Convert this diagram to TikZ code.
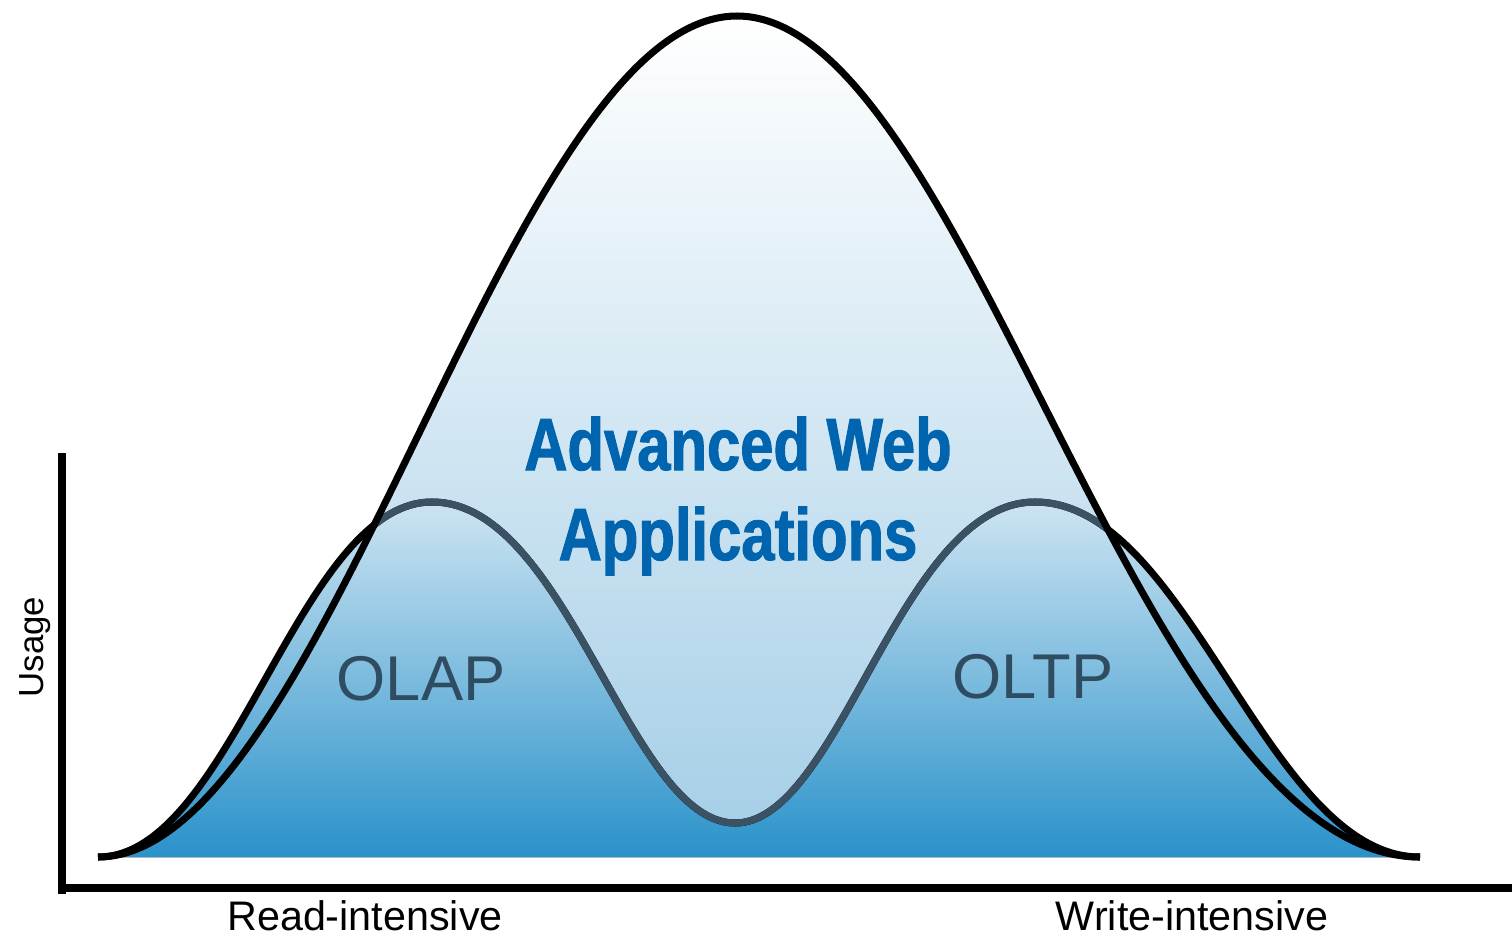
\documentclass[tikz,border=0pt]{standalone}
\usepackage{fontspec}
\setmainfont{Liberation Sans}
\newfontfamily\condfont[FakeStretch=0.81,FakeBold=1.4]{Liberation Sans Bold}
\usetikzlibrary{positioning}
\definecolor{slateLine}{RGB}{58, 82, 100}
\definecolor{slateText}{RGB}{47, 76, 96}
\definecolor{titleBlue}{RGB}{0, 100, 175}
\definecolor{paleBlue}{RGB}{163, 205, 230}
\definecolor{lightBlue}{RGB}{205, 228, 242}
\definecolor{deepBlue}{RGB}{42, 146, 202}

\begin{document}
\begin{tikzpicture}[
    x=0.02cm, y=-0.02cm,
    curve/.style={line width=4pt},
    hump/.style={line width=4pt, draw=slateLine},
    axis/.style={line width=4.3pt},
    label/.style={font=\fontsize{23.5}{27}\selectfont, text=black, inner sep=0pt},
    workload/.style={font=\fontsize{36}{40}\selectfont, text=slateText, inner sep=0pt},
    title/.style={font=\condfont\fontsize{42}{48}\selectfont, text=titleBlue, inner sep=0pt}
]
\useasboundingbox (0,0) rectangle (1512,937);

% Key points of the curves
\coordinate (start) at (98,857);
\coordinate (finish) at (1420,857);
\coordinate (top) at (737,16);
\coordinate (olapTop) at (432,502);
\coordinate (valley) at (735,823);
\coordinate (oltpTop) at (1035,502);

% Advanced web applications (large bell)
\fill[top color=white, bottom color=paleBlue]
    (start) .. controls (328,857) and (507,16) .. (top)
    .. controls (967,16) and (1140,857) .. (finish) -- cycle;

% OLAP / OLTP (double hump)
\fill[top color=lightBlue, bottom color=deepBlue]
    (start) .. controls (232,857) and (298,502) .. (olapTop)
    .. controls (568,502) and (629,823) .. (valley)
    .. controls (840,823) and (900,502) .. (oltpTop)
    .. controls (1189,502) and (1266,857) .. (finish) -- cycle;

% Double hump outline: black outside the bell
\draw[curve]
    (start) .. controls (232,857) and (298,502) .. (olapTop)
    .. controls (568,502) and (629,823) .. (valley)
    .. controls (840,823) and (900,502) .. (oltpTop)
    .. controls (1189,502) and (1266,857) .. (finish);

% Double hump outline: slate inside the bell
\begin{scope}
    \clip (start) .. controls (328,857) and (507,16) .. (top)
        .. controls (967,16) and (1140,857) .. (finish) -- cycle;
    \draw[hump]
        (start) .. controls (232,857) and (298,502) .. (olapTop)
        .. controls (568,502) and (629,823) .. (valley)
        .. controls (840,823) and (900,502) .. (oltpTop)
        .. controls (1189,502) and (1266,857) .. (finish);
\end{scope}

% Bell outline
\draw[curve]
    (start) .. controls (328,857) and (507,16) .. (top)
    .. controls (967,16) and (1140,857) .. (finish);

% Axes
\coordinate (origin) at (62,888);
\coordinate (yEnd) at (62,453);
\coordinate (xEnd) at (1512,888);
\draw[axis] (yEnd) -- (62,894);
\draw[axis] (58,888) -- (xEnd);

% Labels
\node[label, anchor=base] (read) at (365,930) {Read-intensive};
\node[label, anchor=base] (write) at (1192,930) {Write-intensive};
\node[label, anchor=base, rotate=90, font=\fontsize{19.8}{23}\selectfont] (usage) at (43,647) {Usage};
\node[workload, anchor=base] (olap) at (421,700) {OLAP};
\node[workload, anchor=base] (oltp) at (1033,698) {OLTP};
\node[title, anchor=base] (advanced) at (738,470) {Advanced Web};
\node[title, anchor=base] (apps) at (738,560) {Applications};

\end{tikzpicture}
\end{document}
